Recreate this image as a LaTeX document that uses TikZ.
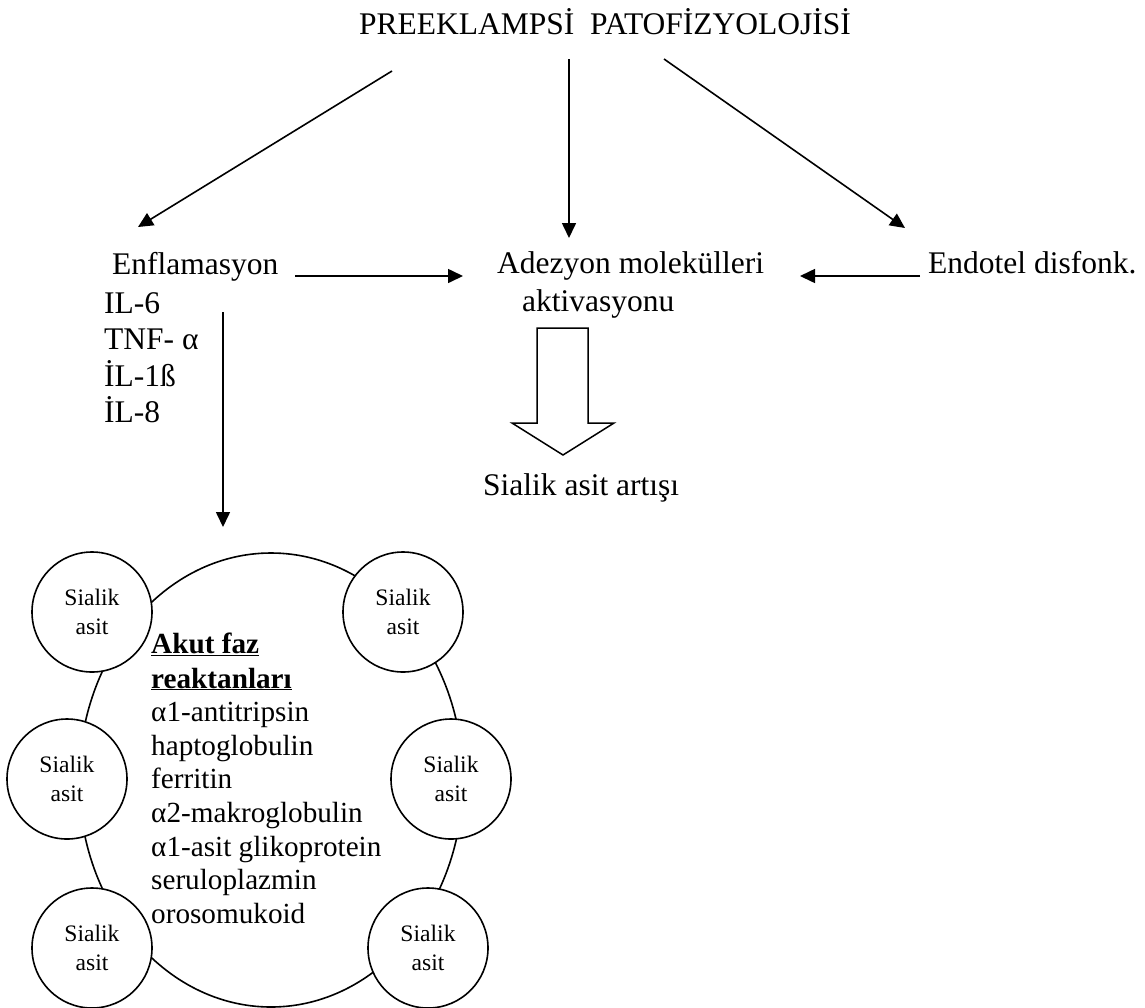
\documentclass[tikz,border=0pt]{standalone}
\usepackage{fontspec}
\setmainfont{Liberation Serif}
\usetikzlibrary{arrows.meta}
\begin{document}
\begin{tikzpicture}[x=1pt,y=-1pt,
  lbl/.style={inner sep=0pt, anchor=base west, font=\fontsize{31.5}{38}\selectfont},
  inl/.style={inner sep=0pt, anchor=base west, font=\fontsize{29.2}{34}\selectfont},
  sial/.style={draw, circle, minimum size=120pt, inner sep=0pt, line width=1.6pt, align=center, fill=white, font=\fontsize{23.6}{29}\selectfont},
  conn/.style={line width=1.6pt, -{Triangle[length=15pt,width=14pt]}},
]
\useasboundingbox (0,0) rectangle (1145,1007);

% title
\node[inner sep=0pt, anchor=base, font=\fontsize{31.5}{38}\selectfont] (title) at (605,34) {PREEKLAMPSİ\ \ PATOFİZYOLOJİSİ};

% arrows from title
\coordinate (s1) at (392,71);  \coordinate (e1) at (138,227);
\coordinate (s2) at (569,59);  \coordinate (e2) at (569,238);
\coordinate (s3) at (664,59);  \coordinate (e3) at (905,228);
\draw[conn] (s1) -- (e1);
\draw[conn] (s2) -- (e2);
\draw[conn] (s3) -- (e3);

% middle row
\node[lbl] (enf) at (112,274) {Enflamasyon};
\node[lbl] (il6) at (104,313) {IL-6};
\node[lbl] (tnf) at (104,349) {TNF- α};
\node[lbl] (il1) at (104,386) {İL-1ß};
\node[lbl] (il8) at (104,422) {İL-8};

\node[lbl] (adz1) at (497,273) {Adezyon molekülleri};
\node[lbl] (adz2) at (522,311) {aktivasyonu};
\node[lbl] (endo) at (928,273) {Endotel disfonk.};

\coordinate (h1s) at (295,276); \coordinate (h1e) at (463,276);
\draw[conn] (h1s) -- (h1e);
\coordinate (h2s) at (920,276); \coordinate (h2e) at (800,276);
\draw[conn] (h2s) -- (h2e);

\coordinate (v1s) at (223,312); \coordinate (v1e) at (223,527);
\draw[conn] (v1s) -- (v1e);

% block arrow
\draw[line width=1.5pt, line join=miter] (537,328) -- (588,328) -- (588,423) -- (614,423) -- (563,455) -- (512,423) -- (537,423) -- cycle;

\node[lbl] (sart) at (483,495) {Sialik asit artışı};

% big ellipse
\draw[line width=1.6pt] (271,780) ellipse [x radius=192pt, y radius=227pt];

\node[inl, font=\fontsize{29.2}{34}\selectfont\bfseries] (ak1) at (151,653) {\underline{Akut faz}};
\node[inl, font=\fontsize{29.2}{34}\selectfont\bfseries] (ak2) at (151,688) {\underline{reaktanları}};
\node[inl] (r1) at (151,721) {α1-antitripsin};
\node[inl] (r2) at (151,755) {haptoglobulin};
\node[inl] (r3) at (151,788) {ferritin};
\node[inl] (r4) at (151,822) {α2-makroglobulin};
\node[inl] (r5) at (151,856) {α1-asit glikoprotein};
\node[inl] (r6) at (151,889) {seruloplazmin};
\node[inl] (r7) at (151,923) {orosomukoid};

% small circles
\node[sial] (c1) at (92,612)  {Sialik\\asit};
\node[sial] (c2) at (403,612) {Sialik\\asit};
\node[sial] (c3) at (67,779)  {Sialik\\asit};
\node[sial] (c4) at (451,779) {Sialik\\asit};
\node[sial] (c5) at (92,948)  {Sialik\\asit};
\node[sial] (c6) at (428,948) {Sialik\\asit};
\end{tikzpicture}
\end{document}
